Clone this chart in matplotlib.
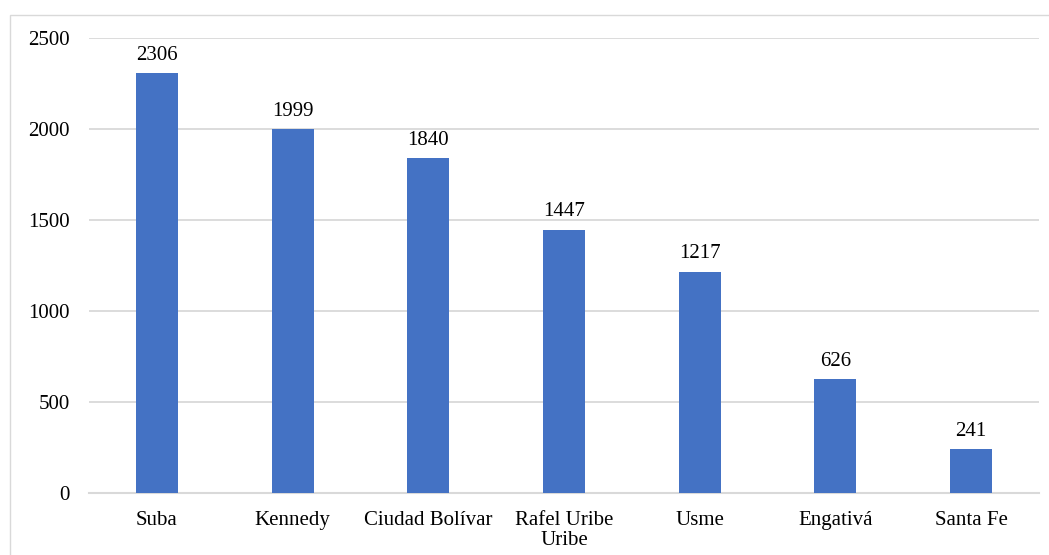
import matplotlib
matplotlib.use("Agg")
import matplotlib.pyplot as plt
from matplotlib.patches import Rectangle

localidades = ["Suba", "Kennedy", "Ciudad Bolívar", "Rafel Uribe\nUribe", "Usme", "Engativá", "Santa Fe"]
casos = [2306, 1999, 1840, 1447, 1217, 626, 241]
yticks = [0, 500, 1000, 1500, 2000, 2500]

plt.rcParams['font.family'] = ['Liberation Serif', 'DejaVu Serif']
grey = '#D9D9D9'
fs = 15

fig = plt.figure(figsize=(10.49, 5.55), dpi=100)
ax = fig.add_axes([89/1049, 1-493/555, 950/1049, 455/555])

bars = ax.bar(range(len(casos)), casos, width=0.31, color='#4472C4', zorder=3)
ax.bar_label(bars, labels=[str(v) for v in casos], padding=6, fontsize=fs)

ax.set_xlim(-0.5, len(casos) - 0.5)
ax.set_ylim(0, 2500)
ax.set_yticks(yticks)
ax.set_xticks(range(len(casos)))
ax.set_xticklabels(localidades, fontsize=fs, linespacing=1.1)
ax.tick_params(axis='y', labelsize=fs, length=0, pad=14)
ax.tick_params(axis='x', length=0, pad=13)
ax.grid(axis='y', color=grey, linewidth=1.3, zorder=0)
for s in ['top', 'right', 'left']:
    ax.spines[s].set_visible(False)
ax.spines['bottom'].set_color(grey)
ax.spines['bottom'].set_linewidth(1.5)

# chart frame
fig.patches.append(Rectangle((10/1049, -0.1), 1.2, 1.1 - 15/555, transform=fig.transFigure,
                             fill=False, edgecolor=grey, linewidth=1))

fig.savefig("out.png", dpi=100)
